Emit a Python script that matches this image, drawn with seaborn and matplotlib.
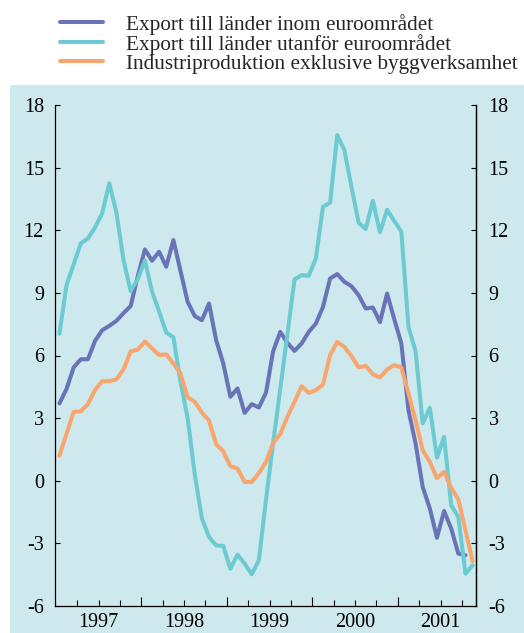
import numpy as np
import pandas as pd
import matplotlib
matplotlib.use("Agg")
import matplotlib.pyplot as plt
from matplotlib.patches import Rectangle
from matplotlib.ticker import FixedLocator, FixedFormatter
import seaborn as sns

# ---------------- data ----------------
series_names = [
    "Export till länder inom euroområdet",
    "Export till länder utanför euroområdet",
    "Industriproduktion exklusive byggverksamhet",
]
start_year = 1997  # monthly data starting January 1997

inom = [3.70, 4.40, 5.43, 5.82, 5.82, 6.70, 7.21, 7.42, 7.66, 8.03,
        8.37, 9.80, 11.08, 10.54, 10.97, 10.25, 11.53, 10.05, 8.57, 7.89,
        7.69, 8.49, 6.74, 5.62, 4.02, 4.42, 3.25, 3.67, 3.51, 4.22,
        6.20, 7.13, 6.61, 6.22, 6.58, 7.13, 7.53, 8.33, 9.69, 9.90,
        9.53, 9.32, 8.89, 8.25, 8.30, 7.60, 8.97, 7.75, 6.58, 3.38,
        1.78, -0.30, -1.33, -2.73, -1.45, -2.29, -3.49, -3.57]

utanfor = [7.04, 9.37, 10.37, 11.37, 11.61, 12.13, 12.81, 14.25, 12.85, 10.57,
           9.08, 9.65, 10.55, 9.07, 8.10, 7.10, 6.87, 4.75, 3.00, 0.30,
           -1.80, -2.70, -3.10, -3.12, -4.22, -3.54, -3.97, -4.48, -3.80, -0.90,
           1.80, 4.40, 7.00, 9.64, 9.85, 9.82, 10.65, 13.13, 13.32, 16.56,
           15.84, 14.08, 12.36, 12.06, 13.41, 11.90, 12.98, 12.45, 11.93, 7.37,
           6.20, 2.75, 3.50, 1.10, 2.10, -1.17, -1.74, -4.45, -4.05]

industri = [1.20, 2.25, 3.30, 3.33, 3.67, 4.35, 4.77, 4.77, 4.86, 5.33,
            6.20, 6.28, 6.67, 6.34, 6.02, 6.05, 5.62, 5.14, 4.00, 3.78,
            3.27, 2.88, 1.76, 1.40, 0.70, 0.58, -0.06, -0.06, 0.37, 0.90,
            1.80, 2.24, 3.06, 3.78, 4.53, 4.21, 4.34, 4.61, 6.02, 6.65,
            6.41, 5.97, 5.43, 5.50, 5.10, 4.95, 5.33, 5.54, 5.43, 4.18,
            2.90, 1.45, 0.90, 0.12, 0.42, -0.33, -0.90, -2.37, -3.85]

y_ticks = [-6, -3, 0, 3, 6, 9, 12, 15, 18]
y_labels = [str(v) for v in y_ticks]
years = [1997, 1998, 1999, 2000, 2001]
year_labels = ["1997", "1998", "1999", "2000", "2001"]

colors = ["#6a72b8", "#6ccbd1", "#f9a66e"]
bg = "#cde9ed"

# ---------------- long-form table ----------------
frames = []
for name, vals in zip(series_names, [inom, utanfor, industri]):
    t = start_year + (np.arange(len(vals)) + 0.5) / 12.0
    frames.append(pd.DataFrame({"t": t, "v": vals, "serie": name}))
df = pd.concat(frames, ignore_index=True)

# ---------------- style ----------------
sns.set_style("ticks")
plt.rcParams["font.family"] = ["Liberation Serif", "DejaVu Serif"]

W, H = 524, 633
fig = plt.figure(figsize=(W / 100, H / 100), dpi=100)
fig.patches.append(Rectangle((10 / W, 0), 1, 1 - 85 / H, transform=fig.transFigure,
                             facecolor=bg, edgecolor="none", zorder=-10))

ax = fig.add_axes([55 / W, 1 - 606 / H, (476 - 55) / W, (606 - 105) / H])
ax.set_facecolor("none")

sns.lineplot(data=df, x="t", y="v", hue="serie", hue_order=series_names,
             palette=colors, linewidth=2.9, estimator=None, legend=False, ax=ax)

ax.set_xlim(1996.99, 2001.915)
ax.set_ylim(-6, 18)
ax.set_xlabel("")
ax.set_ylabel("")

for side in ["left", "right", "bottom"]:
    ax.spines[side].set_visible(True)
    ax.spines[side].set_color("black")
    ax.spines[side].set_linewidth(0.9)
ax.spines["top"].set_visible(False)

# y axis (left)
ax.set_yticks(y_ticks)
ax.set_yticklabels(y_labels)
ax.tick_params(axis="y", direction="in", length=3.5, width=0.8, labelsize=14.5,
               pad=8, colors="black", left=True, right=False)

# y axis (right)
ax2 = ax.twinx()
ax2.set_ylim(-6, 18)
ax2.set_yticks(y_ticks)
ax2.set_yticklabels(y_labels)
ax2.tick_params(axis="y", direction="in", length=3.5, width=0.8, labelsize=14.5,
                pad=9, colors="black")
for side in ["left", "top", "bottom"]:
    ax2.spines[side].set_visible(False)
ax2.spines["right"].set_color("black")
ax2.spines["right"].set_linewidth(0.9)
ax2.set_facecolor("none")

# x axis: long ticks at year boundaries, short quarterly ticks, labels at mid-year
ax.xaxis.set_major_locator(FixedLocator([y for y in years[1:]]))
ax.xaxis.set_major_formatter(FixedFormatter([""] * (len(years) - 1)))
quarters, qlabels = [], []
for y, lab in zip(years, year_labels):
    for q in (1, 2, 3):
        quarters.append(y + q / 4)
        qlabels.append(lab if q == 2 else "")
ax.xaxis.set_minor_locator(FixedLocator(quarters))
ax.xaxis.set_minor_formatter(FixedFormatter(qlabels))
ax.tick_params(axis="x", which="major", direction="in", length=6.5, width=0.8,
               colors="black")
ax.tick_params(axis="x", which="minor", direction="in", length=4.3, width=0.8,
               labelsize=14.5, pad=5, colors="black")

# legend
fig.legend(handles=ax.lines[:3], labels=series_names, loc="upper left",
           bbox_to_anchor=(60 / W, 1 - 14 / H), frameon=False, fontsize=15.3,
           handlelength=2.0, handletextpad=1.1, labelspacing=-0.05,
           borderpad=0, borderaxespad=0)

fig.savefig("out.png", dpi=100)
